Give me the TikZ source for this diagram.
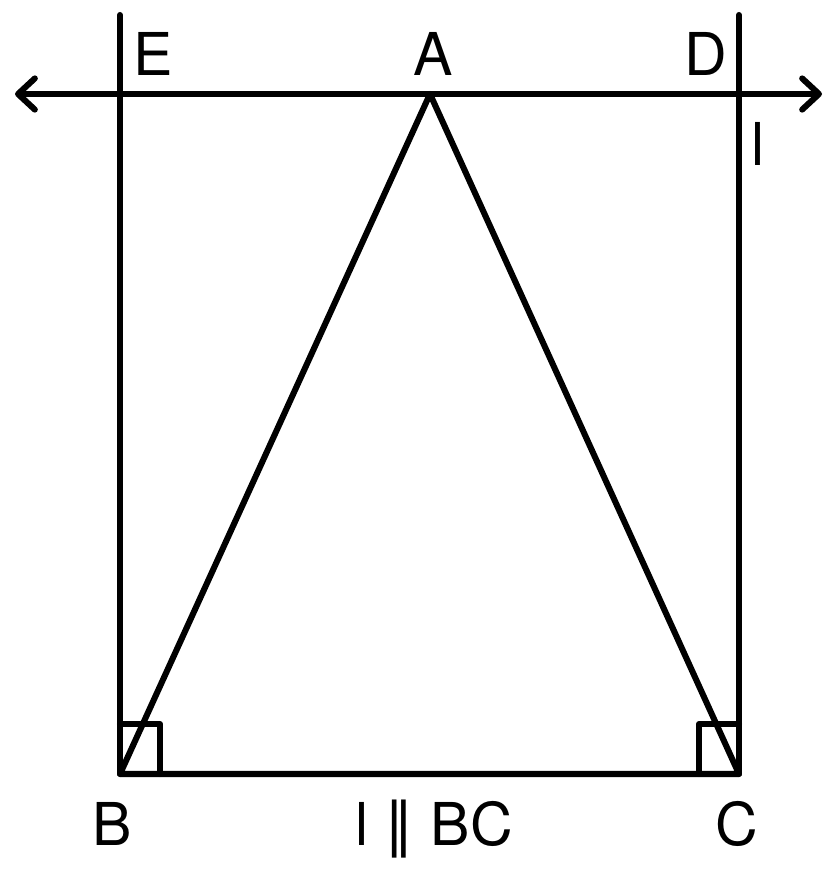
\documentclass[tikz,border=0pt]{standalone}
\usepackage{fontspec}
\setmainfont{TeX Gyre Heros}
\newfontfamily\symfont{DejaVu Sans}
\usetikzlibrary{arrows.meta}

\begin{document}
\begin{tikzpicture}[x=0.025cm, y=-0.025cm,
        line width=4.3pt, line cap=round, line join=round,
        label text/.style={anchor=base, inner sep=0pt, font=\fontsize{42}{50}\selectfont},
        barb/.tip={Straight Barb[length=0.42cm, width=0.78cm, round]}]
        \useasboundingbox (0,0) rectangle (837,869);

        % points of the figure
        \coordinate (B) at (120,774);
        \coordinate (C) at (739,774);
        \coordinate (A) at (430,94);
        \coordinate (E) at (120,94);
        \coordinate (D) at (739,94);
        \coordinate (ETop) at (120,15);
        \coordinate (DTop) at (739,15);
        \coordinate (lLeft) at (15,94);
        \coordinate (lRight) at (822,94);

        % line l through A
        \draw[barb-barb] (lLeft) -- (lRight);
        % perpendiculars
        \draw (ETop) -- (B);
        \draw (DTop) -- (C);
        % triangle
        \draw (B) -- (A) -- (C) -- cycle;
        % right angles
        \draw (B) ++(0,-50) -- ++(40,0) -- ++(0,50);
        \draw (C) ++(0,-50) -- ++(-40,0) -- ++(0,50);

        % labels
        \node[label text] (labelE) at (153,75) {E};
        \node[label text] (labelA) at (433,75) {A};
        \node[label text] (labelD) at (706,75) {D};
        \node[label text] (labelL) at (758,165) {l};
        \node[label text] (labelB) at (112,845) {B};
        \node[label text] (labelBC) at (434,845) {l {\symfont ∥} BC};
        \node[label text] (labelC) at (737,845) {C};
    \end{tikzpicture}
\end{document}
